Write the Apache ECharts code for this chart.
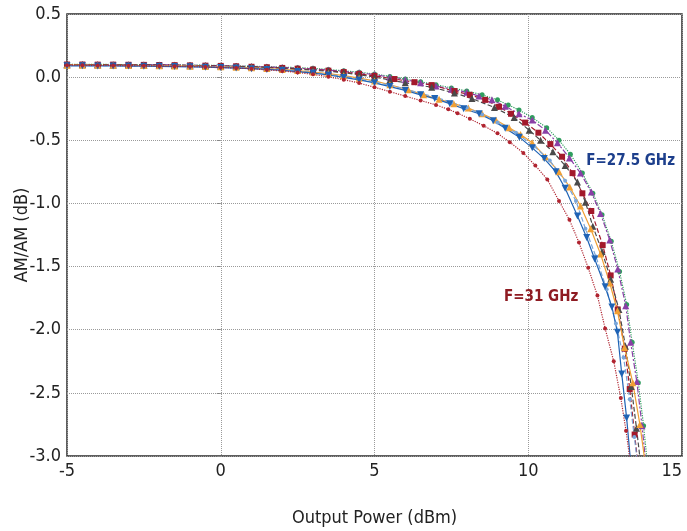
<!DOCTYPE html>
<html style="height:100%;">
<head>
<meta charset="UTF-8" />
<title>AM/AM</title>
<script src="https://cdn.jsdelivr.net/npm/echarts@6/dist/echarts.min.js"></script>
</head>
<body style="margin:0;padding:0;height:100%;background:#fff;">
<div id="chart" style="width:687px;height:531px;"></div>
<script>
// AM/AM vs output power, one curve per frequency (27.5 .. 31 GHz)
var xTicks = [-5, 0, 5, 10, 15];
var yTicks = [0.5, 0.0, -0.5, -1.0, -1.5, -2.0, -2.5, -3.0];

var f31 = [[-5,0.095],[-4.5,0.094],[-4,0.093],[-3.5,0.092],[-3,0.091],[-2.5,0.09],[-2,0.088],[-1.5,0.086],[-1,0.084],[-0.5,0.081],[0,0.077],[0.5,0.072],[1,0.066],[1.5,0.058],[2,0.049],[2.5,0.037],[3,0.022],[3.5,0.003],[4,-0.02],[4.5,-0.047],[5,-0.08],[5.5,-0.115],[6,-0.15],[6.5,-0.185],[7,-0.22],[7.4,-0.255],[7.7,-0.285],[8.1,-0.33],[8.55,-0.385],[9,-0.445],[9.4,-0.515],[9.84,-0.6],[10.23,-0.7],[10.62,-0.81],[11,-0.98],[11.34,-1.13],[11.65,-1.31],[11.95,-1.51],[12.25,-1.73],[12.5,-1.99],[12.78,-2.25],[13.01,-2.54],[13.18,-2.8],[13.32,-3.05]];
var f305 = [[-5,0.09],[-4.5,0.09],[-4,0.089],[-3.5,0.089],[-3,0.088],[-2.5,0.087],[-2,0.086],[-1.5,0.084],[-1,0.082],[-0.5,0.079],[0,0.076],[0.5,0.072],[1,0.067],[1.5,0.061],[2,0.054],[2.5,0.044],[3,0.032],[3.5,0.017],[4,-0.002],[4.5,-0.022],[5,-0.045],[5.5,-0.075],[6,-0.105],[6.5,-0.14],[6.96,-0.17],[7.45,-0.21],[7.9,-0.25],[8.4,-0.29],[8.86,-0.345],[9.25,-0.405],[9.71,-0.475],[10.13,-0.56],[10.52,-0.645],[10.9,-0.75],[11.2,-0.88],[11.6,-1.1],[11.9,-1.27],[12.16,-1.44],[12.5,-1.66],[12.72,-1.82],[12.9,-2.02],[13.04,-2.35],[13.2,-2.7],[13.33,-3.05]];
var f30 = [[-5,0.092],[-4.5,0.092],[-4,0.091],[-3.5,0.091],[-3,0.09],[-2.5,0.089],[-2,0.088],[-1.5,0.087],[-1,0.085],[-0.5,0.083],[0,0.08],[0.5,0.076],[1,0.071],[1.5,0.065],[2,0.058],[2.5,0.048],[3,0.036],[3.5,0.022],[4,0.005],[4.5,-0.015],[5,-0.038],[5.5,-0.065],[6,-0.095],[6.5,-0.127],[7,-0.16],[7.5,-0.2],[8,-0.24],[8.5,-0.295],[9,-0.36],[9.6,-0.44],[10.2,-0.55],[10.7,-0.66],[11.2,-0.82],[11.55,-0.98],[11.86,-1.2],[12.2,-1.42],[12.55,-1.68],[12.85,-1.95],[13.1,-2.22],[13.3,-2.55],[13.45,-2.85],[13.55,-3.05]];
var f295 = [[-5,0.095],[-4.5,0.095],[-4,0.094],[-3.5,0.094],[-3,0.093],[-2.5,0.092],[-2,0.091],[-1.5,0.089],[-1,0.087],[-0.5,0.085],[0,0.082],[0.5,0.078],[1,0.074],[1.5,0.068],[2,0.061],[2.5,0.052],[3,0.04],[3.5,0.028],[4,0.012],[4.5,-0.008],[5,-0.03],[5.5,-0.06],[6.1,-0.1],[6.6,-0.14],[7.1,-0.175],[7.58,-0.21],[8.05,-0.245],[8.5,-0.29],[8.95,-0.34],[9.38,-0.4],[9.75,-0.455],[10.13,-0.52],[10.56,-0.63],[11,-0.75],[11.35,-0.87],[11.7,-1.02],[12.03,-1.2],[12.35,-1.4],[12.65,-1.63],[12.9,-1.85],[13.13,-2.14],[13.4,-2.42],[13.63,-2.75],[13.8,-3.05]];
var f29 = [[-5,0.098],[-4.5,0.098],[-4,0.097],[-3.5,0.097],[-3,0.096],[-2.5,0.095],[-2,0.094],[-1.5,0.093],[-1,0.091],[-0.5,0.089],[0,0.087],[0.5,0.084],[1,0.08],[1.5,0.075],[2,0.069],[2.5,0.062],[3,0.055],[3.5,0.046],[4,0.035],[4.5,0.019],[5,0.0],[5.5,-0.022],[6,-0.045],[6.86,-0.08],[7.6,-0.125],[8.17,-0.17],[8.9,-0.24],[9.54,-0.32],[10.03,-0.42],[10.4,-0.5],[10.8,-0.59],[11.2,-0.7],[11.6,-0.83],[11.86,-0.99],[12.1,-1.18],[12.4,-1.38],[12.68,-1.6],[12.95,-1.84],[13.16,-2.13],[13.35,-2.45],[13.52,-2.78],[13.65,-3.05]];
var f285 = [[-5,0.1],[-4.5,0.1],[-4,0.099],[-3.5,0.099],[-3,0.098],[-2.5,0.097],[-2,0.096],[-1.5,0.095],[-1,0.093],[-0.5,0.091],[0,0.089],[0.5,0.086],[1,0.082],[1.5,0.078],[2,0.073],[2.5,0.067],[3,0.06],[3.5,0.051],[4,0.04],[4.5,0.026],[5,0.01],[5.65,-0.015],[6.3,-0.04],[6.86,-0.063],[7.6,-0.11],[8.1,-0.14],[8.6,-0.18],[9.05,-0.235],[9.44,-0.29],[9.9,-0.36],[10.33,-0.44],[10.72,-0.53],[11.1,-0.63],[11.44,-0.76],[11.76,-0.92],[12.05,-1.06],[12.42,-1.33],[12.68,-1.57],[12.91,-1.84],[13.14,-2.15],[13.3,-2.47],[13.46,-2.83],[13.56,-3.05]];
var f28 = [[-5,0.1],[-4.5,0.1],[-4,0.1],[-3.5,0.099],[-3,0.099],[-2.5,0.098],[-2,0.097],[-1.5,0.096],[-1,0.094],[-0.5,0.092],[0,0.09],[0.5,0.087],[1,0.084],[1.5,0.08],[2,0.076],[2.5,0.071],[3,0.065],[3.5,0.056],[4,0.045],[4.5,0.034],[5,0.02],[5.5,0.0],[6,-0.02],[6.5,-0.044],[7,-0.07],[7.5,-0.095],[8,-0.12],[8.4,-0.15],[8.82,-0.18],[9.25,-0.23],[9.7,-0.29],[10.13,-0.34],[10.56,-0.42],[10.95,-0.52],[11.34,-0.64],[11.7,-0.76],[12.05,-0.91],[12.35,-1.08],[12.65,-1.29],[12.91,-1.52],[13.17,-1.81],[13.33,-2.1],[13.53,-2.41],[13.7,-2.76],[13.82,-3.05]];
var f275 = [[-5,0.102],[-4.5,0.101],[-4,0.101],[-3.5,0.1],[-3,0.1],[-2.5,0.099],[-2,0.098],[-1.5,0.097],[-1,0.096],[-0.5,0.094],[0,0.092],[0.5,0.089],[1,0.086],[1.5,0.083],[2,0.079],[2.5,0.075],[3,0.07],[3.5,0.061],[4,0.05],[4.5,0.039],[5,0.025],[5.5,0.006],[6,-0.015],[6.5,-0.037],[7,-0.06],[7.5,-0.085],[8,-0.11],[8.5,-0.14],[9,-0.18],[9.35,-0.22],[9.7,-0.26],[10.13,-0.32],[10.6,-0.4],[11,-0.5],[11.37,-0.61],[11.76,-0.76],[12.1,-0.92],[12.4,-1.09],[12.7,-1.3],[12.97,-1.54],[13.2,-1.8],[13.38,-2.1],[13.58,-2.42],[13.75,-2.76],[13.87,-3.05]];

var FONT = "'Liberation Sans Narrow', 'DejaVu Sans Condensed', 'Roboto Condensed', sans-serif";

function curve(name, data, color, lineType, symbol, size) {
	return {
		name: name,
		type: 'line',
		data: data,
		symbol: symbol,
		symbolSize: size,
		lineStyle: { color: color, width: 1.2, type: lineType },
		itemStyle: { color: color },
		animation: false,
		z: 3
	};
}

var chart = echarts.init(document.getElementById('chart'));
var series = [
	curve('27.5 GHz', f275, '#2f9e5e', 'dotted', 'circle', 5),
	curve('28 GHz', f28, '#8a3fa6', [6, 2, 2, 2], 'triangle', 7),
	curve('28.5 GHz', f285, '#a3192b', 'dashed', 'rect', 6),
	curve('29 GHz', f29, '#4a4a4a', 'dashed', 'triangle', 7),
	curve('29.5 GHz', f295, '#f0a035', 'solid', 'triangle', 7),
	curve('30 GHz', f30, '#7aa6d9', 'dashed', 'circle', 4),
	curve('30.5 GHz', f305, '#1f63b5', 'solid', 'path://M0,0 L10,0 L5,10 Z', 7),
	curve('31 GHz', f31, '#b02430', 'dotted', 'circle', 4)
];
// frequency labels next to the outer / inner curves
series[0].markPoint = {
	symbol: 'circle', symbolSize: 0, silent: true,
	label: { show: true, position: 'inside', formatter: 'F=27.5 GHz', color: '#1d3f8c',
		fontFamily: FONT, fontWeight: 'bold', fontSize: 15 },
	data: [{ coord: [13.33, -0.667] }]
};
series[7].markPoint = {
	symbol: 'circle', symbolSize: 0, silent: true,
	label: { show: true, position: 'inside', formatter: 'F=31 GHz', color: '#8e1b22',
		fontFamily: FONT, fontWeight: 'bold', fontSize: 15 },
	data: [{ coord: [10.42, -1.74] }]
};

chart.setOption({
	animation: false,
	grid: { left: 67, right: 5, top: 14, bottom: 75, containLabel: false, outerBoundsMode: 'none',
		show: true, borderColor: '#2b2b2b', borderWidth: 1.5, backgroundColor: '#fff' },
	xAxis: {
		type: 'value', min: xTicks[0], max: xTicks[xTicks.length - 1], interval: 5,
		name: 'Output Power (dBm)', nameLocation: 'middle', nameGap: 53,
		nameTextStyle: { fontFamily: FONT, fontSize: 18, color: '#222' },
		axisLine: { show: false },
		axisTick: { show: false },
		axisLabel: { fontFamily: FONT, fontSize: 18, color: '#222', margin: 6, alignMaxLabel: 'right' },
		splitLine: { show: true, lineStyle: { color: '#9a9a9a', type: 'dotted', width: 1 } }
	},
	yAxis: {
		type: 'value', min: yTicks[yTicks.length - 1], max: yTicks[0], interval: 0.5,
		name: 'AM/AM (dB)', nameLocation: 'middle', nameGap: 36, nameMoveOverlap: false,
		nameTextStyle: { fontFamily: FONT, fontSize: 18, color: '#222' },
		axisLine: { show: false },
		axisTick: { show: true, length: 4, lineStyle: { color: '#888' } },
		axisLabel: { fontFamily: FONT, fontSize: 18, color: '#222', margin: 6,
			formatter: function (v) { return v.toFixed(1); } },
		splitLine: { show: true, lineStyle: { color: '#9a9a9a', type: 'dotted', width: 1 } }
	},
	series: series
});
</script>
</body>
</html>
